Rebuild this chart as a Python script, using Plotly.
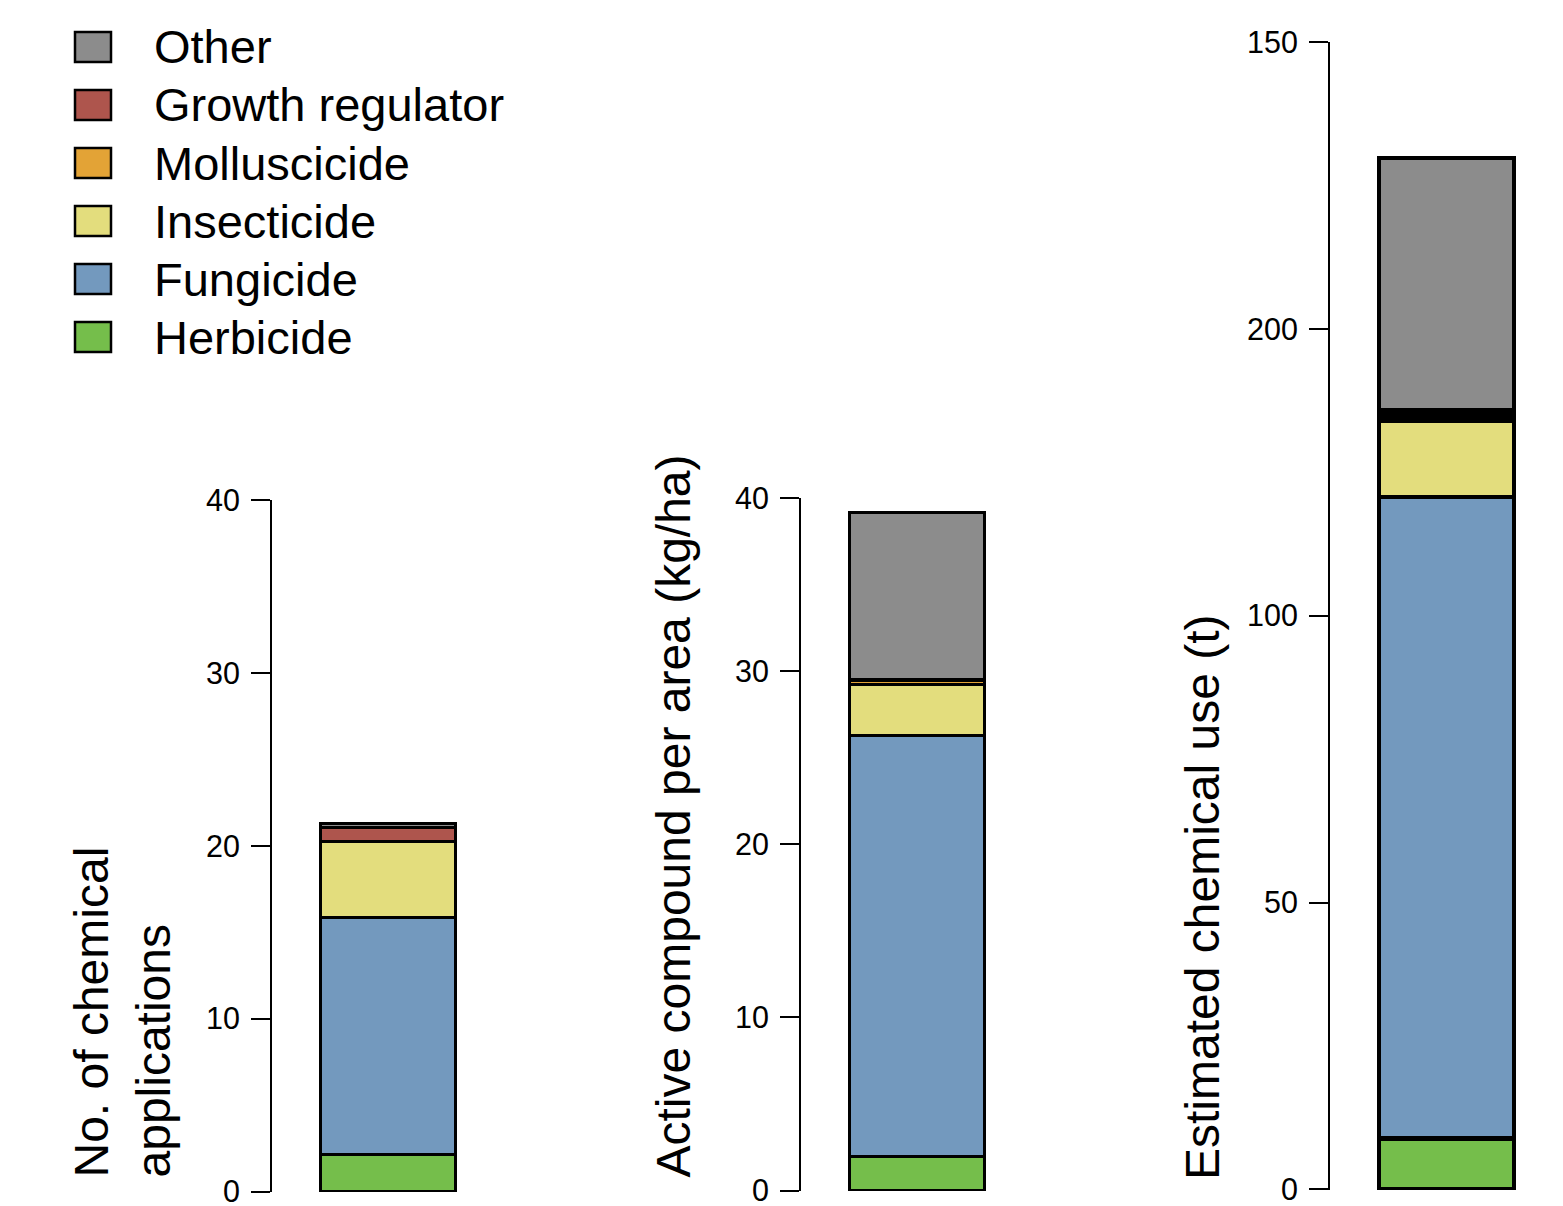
import plotly.graph_objects as go

W, H = 1563, 1206

categories = ["Herbicide", "Fungicide", "Insecticide", "Molluscicide", "Growth regulator", "Other"]
colors = ["#75BE4B", "#7399BE", "#E3DD7D", "#E3A336", "#AE554D", "#8C8C8C"]

applications = [2.14, 13.70, 4.39, 0.0, 0.81, 0.26]
kg_per_ha = [1.96, 24.30, 2.96, 0.25, 0.05, 9.63]
tonnes = [8.9, 111.8, 13.3, 0.9, 0.9, 44.0]

panel_titles = ["No. of chemical<br>applications",
                "Active compound per area (kg/ha)",
                "Estimated chemical use (t)"]

ticks1 = [0, 10, 20, 30, 40]
ticks2 = [0, 10, 20, 30, 40]
ticks3 = [0, 50, 100, 150, 200]
ticktext3 = ["0", "50", "100", "200", "150"]

FONT = "Liberation Sans, Arial, Helvetica, sans-serif"


def xp(px):
    return px / W


def yp(py):
    return 1 - py / H


fig = go.Figure()

panels = [
    dict(vals=applications, lw=3, xd=(272, 504), yd=(500, 1192), top=40, tv=ticks1, tt=[str(t) for t in ticks1]),
    dict(vals=kg_per_ha, lw=3, xd=(801, 1033), yd=(498, 1191), top=40, tv=ticks2, tt=[str(t) for t in ticks2]),
    dict(vals=tonnes, lw=4.5, xd=(1330, 1563), yd=(42, 1190), top=200, tv=ticks3, tt=ticktext3),
]

layout_axes = {}
for i, p in enumerate(panels):
    n = "" if i == 0 else str(i + 1)
    for cat, col, v in zip(categories, colors, p["vals"]):
        fig.add_trace(go.Bar(
            x=[0], y=[v], name=cat, width=0.578,
            marker=dict(color=col, line=dict(color="black", width=p["lw"])),
            xaxis="x" + n, yaxis="y" + n, showlegend=False, cliponaxis=False,
        ))
    eps = p["top"] * 0.0005
    layout_axes["xaxis" + n] = dict(
        domain=[xp(p["xd"][0]), xp(p["xd"][1])], range=[-0.5, 0.5],
        visible=False, anchor="y" + n, fixedrange=True, automargin=False)
    layout_axes["yaxis" + n] = dict(
        domain=[yp(p["yd"][1]), yp(p["yd"][0])], range=[-eps, p["top"]],
        anchor="x" + n, showline=True, linecolor="black", linewidth=2,
        ticks="outside", ticklen=19, tickwidth=2, tickcolor="black",
        tickvals=p["tv"], ticktext=p["tt"], showgrid=False, zeroline=False,
        tickfont=dict(family=FONT, size=30.5, color="black"),
        ticklabelstandoff=5, ticklabeloverflow="allow",
        fixedrange=True, automargin=False)

fig.update_layout(
    barmode="stack", width=W, height=H,
    margin=dict(l=0, r=0, t=0, b=0, pad=0),
    paper_bgcolor="white", plot_bgcolor="white",
    showlegend=False, **layout_axes,
)

# axis titles
title_pos = [(122, 1180), (673, 1180), (1202, 1182)]
for txt, (tx, ty) in zip(panel_titles, title_pos):
    fig.add_annotation(
        text=txt, x=xp(tx), y=yp(ty), xref="paper", yref="paper",
        xanchor="center", yanchor="bottom", textangle=-90, align="left",
        showarrow=False, font=dict(family=FONT, size=48, color="black"))

# manual legend (reverse stacking order)
for k, idx in enumerate(range(len(categories) - 1, -1, -1)):
    top = 32 + 58 * k
    fig.add_shape(type="rect", xref="paper", yref="paper",
                  x0=xp(75), x1=xp(111), y0=yp(top + 30), y1=yp(top),
                  fillcolor=colors[idx], line=dict(color="black", width=2.5))
    fig.add_annotation(
        text=categories[idx], x=xp(152), y=yp(top + 15), xref="paper", yref="paper",
        xanchor="left", yanchor="middle", showarrow=False,
        font=dict(family=FONT, size=47, color="black"))

fig.write_html("out.html", config={"displayModeBar": False},
               post_script="document.body.style.margin='0';document.body.style.overflow='hidden';")
